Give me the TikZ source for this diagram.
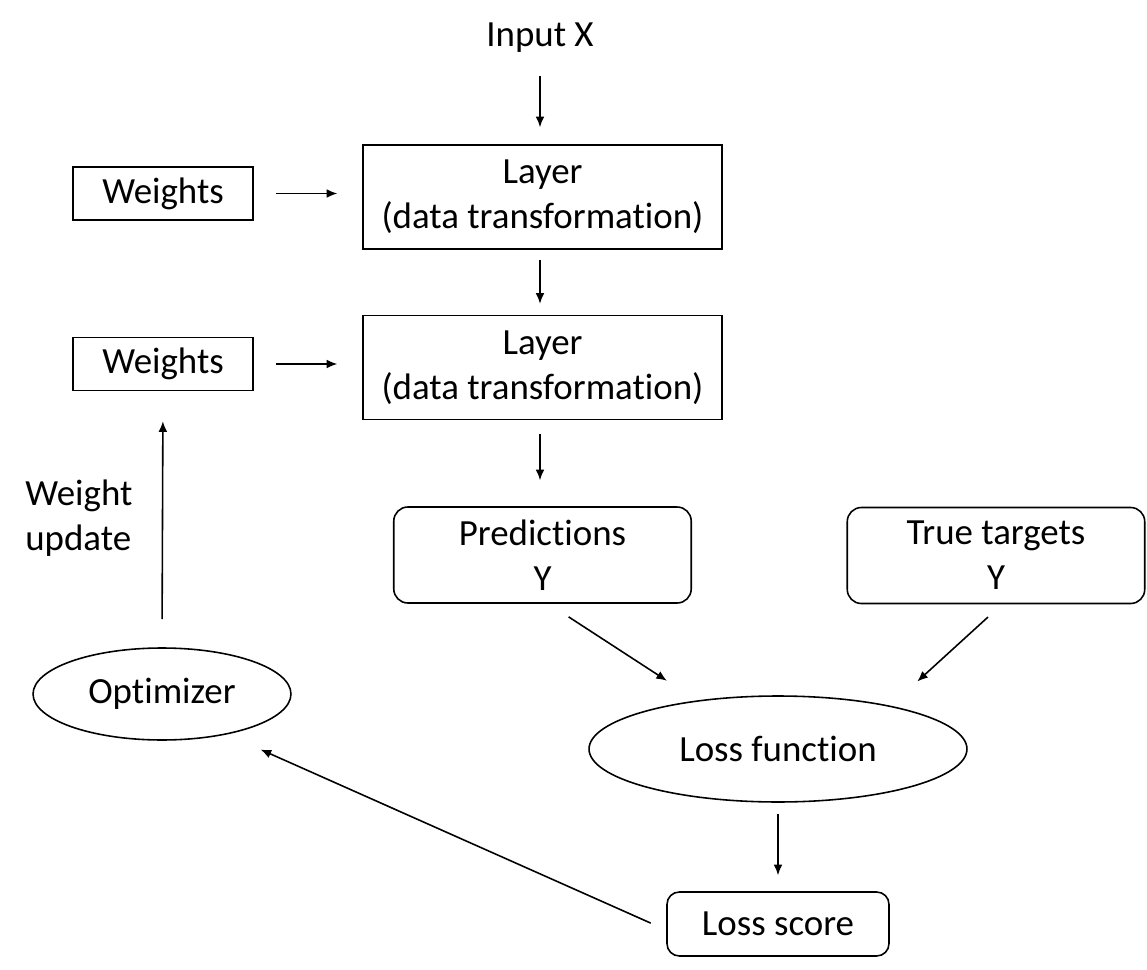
\documentclass[tikz,border=0pt]{standalone}
\usepackage{fontspec}
\setmainfont[Ligatures=NoCommon]{Carlito}
\usetikzlibrary{arrows.meta,shapes.geometric,calc}
\begin{document}
\begin{tikzpicture}[x=0.02cm,y=-0.02cm,
  every node/.style={font=\fontsize{21}{25.5}\selectfont, inner sep=0pt, align=center},
  layerbox/.style={draw, line width=0.9pt, minimum width=7.18cm, minimum height=2.08cm},
  wbox/.style={draw, line width=0.9pt, minimum width=3.6cm, minimum height=1.06cm},
  rbox/.style={draw, line width=0.9pt, rounded corners=8pt, minimum width=5.95cm, minimum height=1.92cm},
  lsbox/.style={draw, line width=0.9pt, rounded corners=7pt, minimum width=4.44cm, minimum height=1.28cm},
  ell/.style={draw, ellipse, line width=0.9pt},
  arr/.style={-{Latex[length=6pt,width=5pt]}, line width=0.9pt}
]
\useasboundingbox (0,0) rectangle (1147,970);

\node (in) at (540,38) {Input X};
\node[layerbox] (l1) at (542.5,197) {Layer\\(data transformation)};
\node[wbox] (w1) at (163,193.5) {Weights};
\node[layerbox] (l2) at (542.5,367.5) {Layer\\(data transformation)};
\node[wbox] (w2) at (163,364) {Weights};
\node[rbox] (pred) at (542.5,555) {Predictions\\Y};
\node[rbox] (tt) at (996,555.5) {True targets\\Y};
\node[ell, minimum width=7.56cm, minimum height=2.12cm] (lf) at (778,749) {Loss function};
\node[lsbox] (ls) at (778,924) {Loss score};
\node[ell, minimum width=5.16cm, minimum height=1.84cm] (opt) at (162,694) {Optimizer};
\node[align=left, anchor=west] (wu) at (25,518) {Weight\\update};

\draw[arr, shorten <=0.76cm, shorten >=0.34cm] (in.center) -- (in.center |- l1.north);
\draw[arr, shorten <=0.44cm, shorten >=0.5cm] (w1.east) -- (w1.east -| l1.west);
\draw[arr, shorten <=0.2cm, shorten >=0.22cm] (l1.south -| in.center) -- (l2.north -| in.center);
\draw[arr, shorten <=0.44cm, shorten >=0.5cm] (w2.east) -- (w2.east -| l2.west);
\draw[arr, shorten <=0.28cm, shorten >=0.52cm] (l2.south -| in.center) -- (pred.north -| in.center);
\draw[arr, shorten <=0.48cm, shorten >=0.72cm] ($(pred.south)+(6,0)$) -- (lf.149);
\draw[arr, shorten <=0.38cm, shorten >=0.72cm] ($(tt.south)+(6,0)$) -- (lf.21);
\draw[arr, shorten <=0.22cm, shorten >=0.32cm] (lf.south) -- (ls.north);
\draw[arr, shorten <=0.34cm, shorten >=0.74cm] ($(ls.west)+(0,6)$) -- (opt.-32);
\draw[arr, shorten <=0.56cm, shorten >=0.6cm] (opt.north) -- (w2.south);
\end{tikzpicture}
\end{document}
